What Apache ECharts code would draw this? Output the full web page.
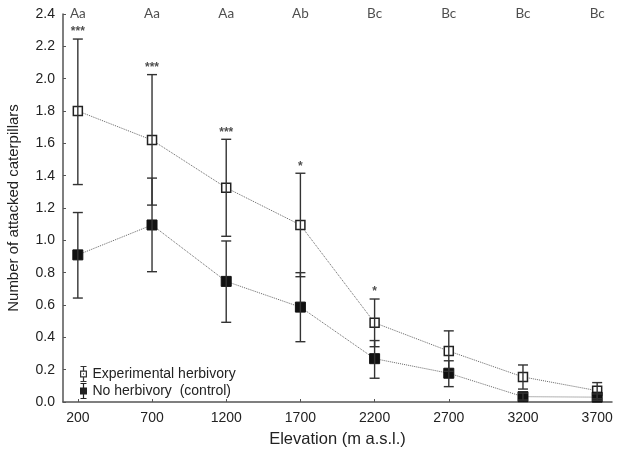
<!DOCTYPE html>
<html><head><meta charset="utf-8">
<script src="https://cdn.jsdelivr.net/npm/echarts@6/dist/echarts.min.js"></script>
<style>html,body{margin:0;padding:0;background:#fff}#c{width:619px;height:452px}</style>
</head><body><div id="c"></div>
<script>
var elevations = [200, 700, 1200, 1700, 2200, 2700, 3200, 3700];
var expMean  = [1.80, 1.62, 1.325, 1.095, 0.49, 0.315, 0.155, 0.07];
var expUpper = [2.245, 2.025, 1.625, 1.415, 0.637, 0.44, 0.229, 0.12];
var expLower = [1.345, 1.218, 1.025, 0.775, 0.342, 0.19, 0.08, 0.02];
var ctlMean  = [0.91, 1.095, 0.746, 0.587, 0.268, 0.178, 0.033, 0.03];
var ctlUpper = [1.172, 1.385, 0.996, 0.80, 0.38, 0.255, 0.055, 0.05];
var ctlLower = [0.643, 0.806, 0.493, 0.373, 0.147, 0.095, 0.012, 0.01];
var groupLetters = ['Aa', 'Aa', 'Aa', 'Ab', 'Bc', 'Bc', 'Bc', 'Bc'];
var stars = ['***', '***', '***', '*', '*', '', '', ''];
var yTicks = [0, 0.2, 0.4, 0.6, 0.8, 1.0, 1.2, 1.4, 1.6, 1.8, 2.0, 2.2, 2.4];

function pairs(xs, ys) { return xs.map(function (x, i) { return [x, ys[i]]; }); }
function errData(lo, hi) { return elevations.map(function (x, i) { return [x, lo[i], hi[i]]; }); }

function errRender(params, api) {
  var x = api.value(0);
  var lo = api.coord([x, api.value(1)]);
  var hi = api.coord([x, api.value(2)]);
  var w = 5;
  var st = { stroke: '#333', lineWidth: 1.4 };
  return {
    type: 'group',
    children: [
      { type: 'line', shape: { x1: lo[0], y1: lo[1], x2: hi[0], y2: hi[1] }, style: st },
      { type: 'line', shape: { x1: lo[0] - w, y1: lo[1], x2: lo[0] + w, y2: lo[1] }, style: st },
      { type: 'line', shape: { x1: hi[0] - w, y1: hi[1], x2: hi[0] + w, y2: hi[1] }, style: st }
    ]
  };
}

var iconFilled = 'path://M2,0H8V1H2Z M2,15H8V16H2Z M4.4,0H5.6V16H4.4Z M1.5,4.5H8.5V11.5H1.5Z';
var iconHollow = 'path://M2,0H8V1H2Z M2,15H8V16H2Z M4.4,0H5.6V4.5H4.4Z M4.4,11.5H5.6V16H4.4Z M1.5,4.5H8.5V5.7H1.5Z M1.5,10.3H8.5V11.5H1.5Z M1.5,4.5H2.7V11.5H1.5Z M7.3,4.5H8.5V11.5H7.3Z M4.6,7.2H5.4V8.8H4.6Z';

var chart = echarts.init(document.getElementById('c'));
chart.setOption({
  animation: false,
  backgroundColor: '#fff',
  grid: { left: 63, right: 7, top: 14, bottom: 50, outerBoundsMode: 'none', containLabel: false },
  legend: {
    orient: 'vertical', left: 75, top: 361,
    itemWidth: 10, itemHeight: 16, itemGap: 1,
    textStyle: { fontFamily: 'Liberation Sans', fontSize: 14, color: '#222', padding: [0, 0, 0, -1] },
    data: [
      { name: 'Experimental herbivory', icon: iconHollow, itemStyle: { color: '#333', borderWidth: 0 } },
      { name: 'No herbivory  (control)', icon: iconFilled, itemStyle: { color: '#222', borderWidth: 0 } }
    ]
  },
  xAxis: {
    type: 'value', min: 100, max: 3800,
    name: 'Elevation (m a.s.l.)', nameLocation: 'middle', nameGap: 29,
    nameTextStyle: { fontFamily: 'Liberation Sans', fontSize: 16.5, color: '#222' },
    axisLine: { lineStyle: { color: '#555', width: 1.5 } },
    axisTick: { show: true, inside: true, length: 3, customValues: elevations, lineStyle: { color: '#555' } },
    axisLabel: { customValues: elevations, formatter: function (v) { return String(v); },
      fontFamily: 'Liberation Sans', fontSize: 14, color: '#222', margin: 9 },
    splitLine: { show: false }
  },
  yAxis: {
    type: 'value', min: 0, max: 2.4,
    name: 'Number of attacked caterpillars', nameLocation: 'middle', nameGap: 42,
    nameTextStyle: { fontFamily: 'Liberation Sans', fontSize: 15, color: '#222' },
    axisLine: { show: true, lineStyle: { color: '#555', width: 1.5 } },
    axisTick: { show: true, inside: true, length: 3, customValues: yTicks, lineStyle: { color: '#555' } },
    axisLabel: { customValues: yTicks, formatter: function (v) { return v.toFixed(1); },
      fontFamily: 'Liberation Sans', fontSize: 14, color: '#222', margin: 8 },
    splitLine: { show: false }
  },
  series: [
    {
      name: 'Experimental herbivory', type: 'line', data: pairs(elevations, expMean),
      symbol: 'rect', symbolSize: 9, z: 3,
      itemStyle: { color: '#fff', borderColor: '#222', borderWidth: 1.5 },
      lineStyle: { type: 'dotted', color: '#666', width: 1 }
    },
    {
      name: 'No herbivory  (control)', type: 'line', data: pairs(elevations, ctlMean),
      symbol: 'rect', symbolSize: 10, z: 4,
      itemStyle: { color: '#111', borderColor: '#111', borderWidth: 1 },
      lineStyle: { type: 'dotted', color: '#666', width: 1 }
    },
    { name: 'expErr', type: 'custom', renderItem: errRender, data: errData(expLower, expUpper), z: 5, silent: true },
    { name: 'ctlErr', type: 'custom', renderItem: errRender, data: errData(ctlLower, ctlUpper), z: 5, silent: true },
    {
      name: 'stars', type: 'scatter', symbolSize: 0, silent: true, z: 6,
      data: pairs(elevations, expUpper),
      label: { show: true, position: 'top', distance: 1,
        formatter: function (p) { return stars[p.dataIndex]; },
        fontFamily: 'Liberation Sans', fontSize: 12, fontWeight: 'bold', color: '#222' }
    },
    {
      name: 'letters', type: 'scatter', symbolSize: 0, silent: true, z: 6,
      data: elevations.map(function (x) { return [x, 2.4]; }),
      label: { show: true, position: 'inside',
        formatter: function (p) { return groupLetters[p.dataIndex]; },
        fontFamily: 'Lato', fontSize: 13.5, color: '#222' }
    }
  ]
});
</script></body></html>
